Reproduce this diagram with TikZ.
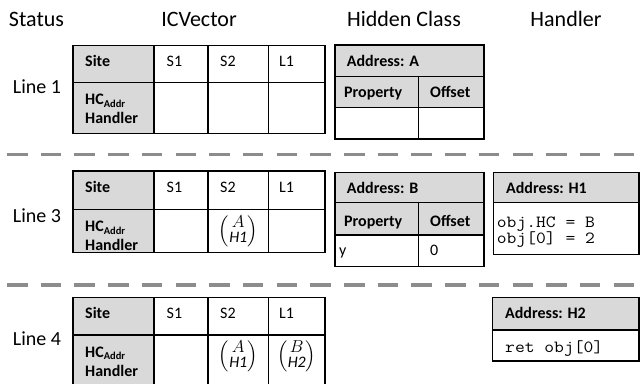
\documentclass[tikz,border=0pt]{standalone}
\usepackage{amsmath}
\usepackage{graphicx}
\usepackage{fontspec}
\setmainfont{Carlito}
\definecolor{hdr}{HTML}{D9D9D9}
\definecolor{sepgray}{HTML}{8C8C8C}
\newcommand\hcpair[2]{{\renewcommand\arraystretch{0.82}$\begin{pmatrix}#1\\ \mathit{#2}\end{pmatrix}$}}
% wide typewriter lines for handler code
\newcommand\codeline[1]{\scalebox{1.12}[1]{#1}}

\begin{document}
\begin{tikzpicture}[x=1pt,y=-1pt,
  title/.style={font=\fontsize{22}{25}\selectfont, inner sep=0},
  rowlbl/.style={font=\fontsize{20}{23}\selectfont, inner sep=0},
  cell/.style={draw=black, line width=1.5pt},
  bt/.style={font=\bfseries\fontsize{16}{18}\selectfont, anchor=base west, inner sep=0},
  rt/.style={font=\fontsize{16}{18}\selectfont, anchor=base west, inner sep=0},
  code/.style={font=\ttfamily\fontsize{17}{17}\selectfont, anchor=base west, inner sep=0},
  mat/.style={font=\fontsize{16}{18}\selectfont, inner sep=0},
  divider/.style={draw=sepgray, line width=3.5pt, dash pattern=on 20.5pt off 13.2pt}]

\useasboundingbox (0,0) rectangle (640,383);
\clip (0,0) rectangle (640,383);

% column headings
\node[title] (tStatus) at (36.5,19) {Status};
\node[title] (tICV) at (199,19) {ICVector};
\node[title] (tHC) at (404,19) {Hidden Class};
\node[title] (tHandler) at (566,19) {Handler};

% row labels
\node[rowlbl] (l1) at (37,87) {Line 1};
\node[rowlbl] (l3) at (37,216) {Line 3};
\node[rowlbl] (l4) at (37,339) {Line 4};

% separators between the states
\draw[divider] (7,154.5) -- (640,154.5);
\draw[divider] (7,285) -- (640,285);

% IC vector table: #1 name, #2 top, #3 middle rule, #4 bottom
\newcommand\icvtable[4]{%
  \fill[hdr] (73,#2) rectangle (154,#4);
  \draw[cell] (73,#2) rectangle (325,#4);
  \draw[cell] (73,#3) -- (325,#3);
  \foreach \cx in {154,208,268.5} {\draw[cell] (\cx,#2) -- (\cx,#4);}
  \node[bt] (#1site) at (85,#2+21) {Site};
  \node[rt] (#1s1) at (166.5,#2+21) {S1};
  \node[rt] (#1s2) at (220,#2+21) {S2};
  \node[rt] (#1l1) at (279,#2+21) {L1};
  \node[bt] (#1hc) at (85,#3+22.5) {HC\raisebox{-0.3ex}{\fontsize{10.5}{10.5}\selectfont Addr}};
  \node[bt] (#1hd) at (85,#3+41) {Handler};
}

\icvtable{a}{45.7}{82.3}{133.3}
\icvtable{b}{171}{209.3}{252.3}
\icvtable{c}{297.7}{335}{400}

% cached (hidden class, handler) pairs
\node[mat] (bS2) at (238.3,231) {\hcpair{A}{H1}};
\node[mat] (cS2) at (238.3,356) {\hcpair{A}{H1}};
\node[mat] (cL1) at (296.8,356) {\hcpair{B}{H2}};

% hidden class A
\fill[hdr] (335,45) rectangle (484,107.7);
\draw[cell] (335,45) rectangle (484,139);
\draw[cell] (335,76.7) -- (484,76.7);
\draw[cell] (335,107.7) -- (484,107.7);
\draw[cell] (418.3,76.7) -- (418.3,139);
\node[bt] (hcA) at (346.7,66) {Address: A};
\node[bt] (hcAp) at (344,97) {Property};
\node[bt] (hcAo) at (430,97) {Offset};

% hidden class B
\fill[hdr] (335,172.7) rectangle (484,235);
\draw[cell] (335,172.7) rectangle (484,266.7);
\draw[cell] (335,202.7) -- (484,202.7);
\draw[cell] (335,235) -- (484,235);
\draw[cell] (418.3,202.7) -- (418.3,266.7);
\node[bt] (hcB) at (346.7,193.5) {Address: B};
\node[bt] (hcBp) at (344,226) {Property};
\node[bt] (hcBo) at (430,226) {Offset};
\node[rt] (hcBy) at (339,255) {y};
\node[rt] (hcB0) at (430,255) {0};

% handler H1
\fill[hdr] (493.3,172.7) rectangle (639,202.7);
\draw[cell] (493.3,172.7) rectangle (639,254.3);
\draw[cell] (493.3,202.7) -- (639,202.7);
\node[bt] (h1) at (506,193.5) {Address: H1};
\node[code] (h1a) at (496.7,227.5) {\codeline{obj.HC = B}};
\node[code] (h1b) at (496.7,243.5) {\codeline{obj[0] = 2}};

% handler H2
\fill[hdr] (492.3,297.7) rectangle (639,330);
\draw[cell] (492.3,297.7) rectangle (639,361);
\draw[cell] (492.3,330) -- (639,330);
\node[bt] (h2) at (505,318.5) {Address: H2};
\node[code] (h2a) at (505,352) {\codeline{ret obj[0]}};

\end{tikzpicture}
\end{document}
